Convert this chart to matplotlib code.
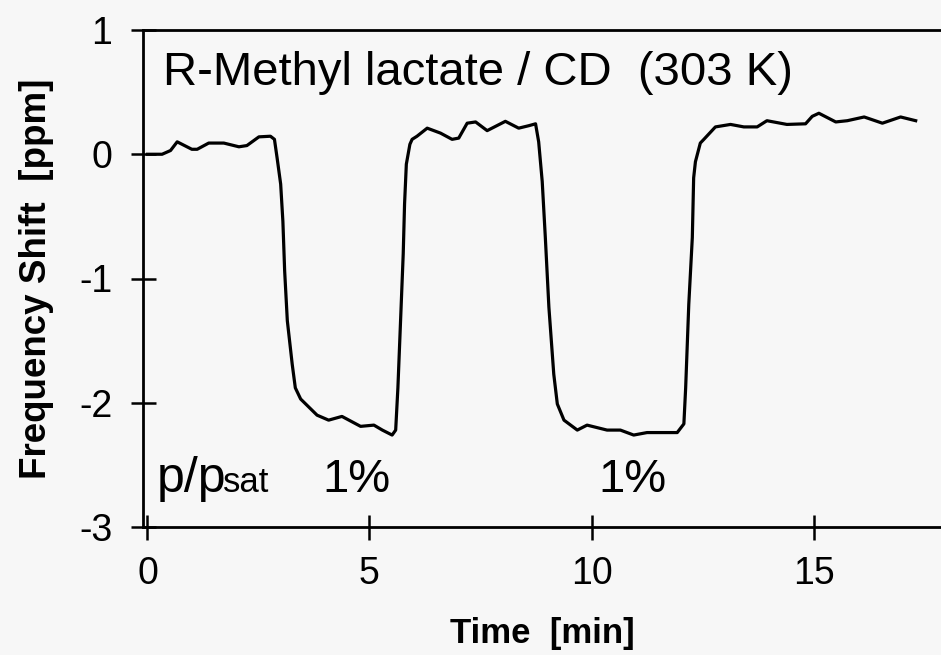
import matplotlib
matplotlib.use("Agg")
import matplotlib.pyplot as plt

plt.rcParams['font.family'] = ['Liberation Sans', 'DejaVu Sans']
plt.rcParams['axes.unicode_minus'] = False

# time [min] and frequency shift [ppm]
time = [0.0, 0.33, 0.52, 0.67, 1.0, 1.12, 1.38, 1.72, 2.06, 2.24, 2.51, 2.77,
        2.86, 2.92, 3.0, 3.05, 3.09, 3.15, 3.26, 3.33, 3.45, 3.82, 4.08, 4.38,
        4.8, 5.1, 5.29, 5.51, 5.59, 5.64, 5.7, 5.76, 5.79, 5.83, 5.91, 5.96,
        6.07, 6.3, 6.6, 6.86, 7.01, 7.2, 7.39, 7.65, 8.06, 8.36, 8.59, 8.74,
        8.81, 8.89, 8.96, 9.04, 9.15, 9.23, 9.38, 9.68, 9.9, 10.35, 10.65,
        10.95, 11.25, 11.93, 12.08, 12.12, 12.19, 12.27, 12.3, 12.34, 12.45,
        12.53, 12.79, 13.13, 13.43, 13.73, 13.95, 14.4, 14.82, 14.97, 15.12,
        15.5, 15.76, 16.14, 16.55, 16.96, 17.3]
shift = [0.0, 0.0, 0.03, 0.10, 0.04, 0.04, 0.09, 0.09, 0.06, 0.07, 0.14, 0.145,
         0.12, -0.03, -0.24, -0.54, -0.94, -1.34, -1.69, -1.88, -1.97, -2.10,
         -2.14, -2.11, -2.19, -2.18, -2.22, -2.26, -2.22, -1.88, -1.34, -0.80,
         -0.40, -0.08, 0.08, 0.12, 0.145, 0.21, 0.17, 0.12, 0.13, 0.25, 0.26,
         0.19, 0.265, 0.21, 0.23, 0.245, 0.10, -0.22, -0.67, -1.23, -1.77,
         -2.01, -2.14, -2.22, -2.18, -2.22, -2.22, -2.26, -2.24, -2.24, -2.17,
         -1.88, -1.21, -0.67, -0.19, -0.06, 0.09, 0.12, 0.22, 0.24, 0.22, 0.22,
         0.27, 0.24, 0.245, 0.305, 0.33, 0.26, 0.27, 0.30, 0.25, 0.30, 0.27]

xticks = [0, 5, 10, 15]
yticks = [1, 0, -1, -2, -3]
pulse_labels = ["1%", "1%"]
pulse_x = [3.94, 10.16]

bg = '#f7f7f7'
fig = plt.figure(figsize=(9.41, 6.55), dpi=100, facecolor=bg)
ax = fig.add_axes([143/941, 1-527/655, 1-143/941, (527-30)/655])
ax.set_facecolor(bg)

ax.plot(time, shift, color='black', lw=2.3, solid_joinstyle='round')

ax.set_xlim(-0.1, 17.87)
ax.set_ylim(-3, 1)
ax.set_xticks(xticks)
ax.set_yticks(yticks)
ax.tick_params(direction='inout', length=18, width=1.8, labelsize=27)
ax.tick_params(axis='x', pad=12)
ax.tick_params(axis='y', pad=13)
for s in ['left', 'bottom', 'top']:
    ax.spines[s].set_linewidth(2)
ax.spines['right'].set_visible(False)

ax.set_xlabel('Time  [min]', fontsize=25, fontweight='bold', labelpad=18)
ax.set_ylabel('Frequency Shift  [ppm]', fontsize=26.5, fontweight='bold', labelpad=18)

ax.text(0.36, 0.56, 'R-Methyl lactate / CD  (303 K)', fontsize=34, va='baseline')
ax.text(0.22, -2.72, 'p/p', fontsize=36, va='baseline')
ax.text(1.71, -2.72, 'sat', fontsize=25, va='baseline')
for x, lab in zip(pulse_x, pulse_labels):
    ax.text(x, -2.72, lab, fontsize=34, va='baseline')

fig.savefig('out.png', dpi=100, facecolor=bg)
